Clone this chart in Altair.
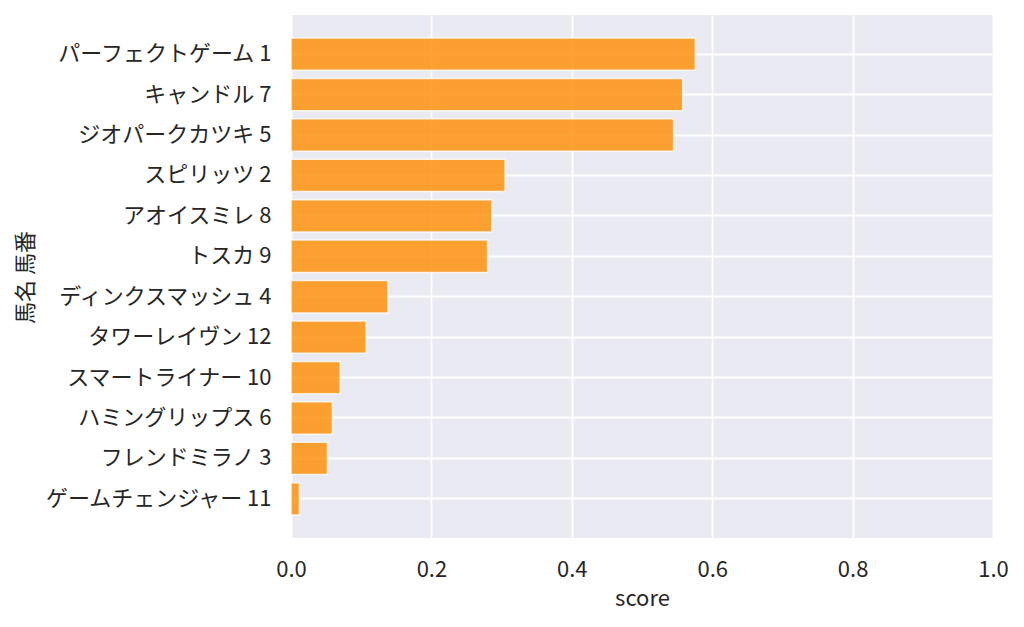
import altair as alt
import pandas as pd

names = ["パーフェクトゲーム 1", "キャンドル 7", "ジオパークカツキ 5", "スピリッツ 2",
         "アオイスミレ 8", "トスカ 9", "ディンクスマッシュ 4", "タワーレイヴン 12",
         "スマートライナー 10", "ハミングリップス 6", "フレンドミラノ 3", "ゲームチェンジャー 11"]
scores = [0.576, 0.558, 0.545, 0.305, 0.286, 0.280, 0.138, 0.107, 0.070, 0.059, 0.052, 0.012]

df = pd.DataFrame({"name": names, "score": scores})
FONT = "Noto Sans CJK JP"

chart = alt.Chart(df).mark_bar(
    fill="#FF8C00", fillOpacity=0.8, stroke="white", strokeWidth=1.5, strokeOpacity=0.8
).encode(
    x=alt.X("score:Q", title="score",
            scale=alt.Scale(domain=[0, 1], nice=False, zero=True),
            axis=alt.Axis(values=[0, 0.2, 0.4, 0.6, 0.8, 1.0], format=".1f",
                          grid=True, gridColor="white", gridWidth=1.8,
                          ticks=False, domain=False, labelPadding=21, labelFlush=False,
                          titlePadding=8)),
    y=alt.Y("name:N", title="馬名 馬番", sort=names,
            scale=alt.Scale(paddingInner=0.2, paddingOuter=0.57),
            axis=alt.Axis(grid=True, gridColor="white", gridWidth=1.8, bandPosition=0.5,
                          ticks=False, domain=False, labelPadding=20, labelLimit=500,
                          titleX=-266, titleY=262, titleAngle=-90,
                          titleAlign="center", titleBaseline="middle")),
).properties(
    width=702, height=523,
    autosize=alt.AutoSizeParams(type="none"),
    padding={"left": 283, "top": 7, "right": 20, "bottom": 90},
).configure_view(
    fill="#EAEAF2", stroke=None
).configure_axis(
    labelFont=FONT, titleFont=FONT, labelFontSize=22, titleFontSize=22,
    labelColor="#262626", titleColor="#262626", titleFontWeight="normal"
)

chart.save("out.html", embed_options={"renderer": "svg", "actions": False})
